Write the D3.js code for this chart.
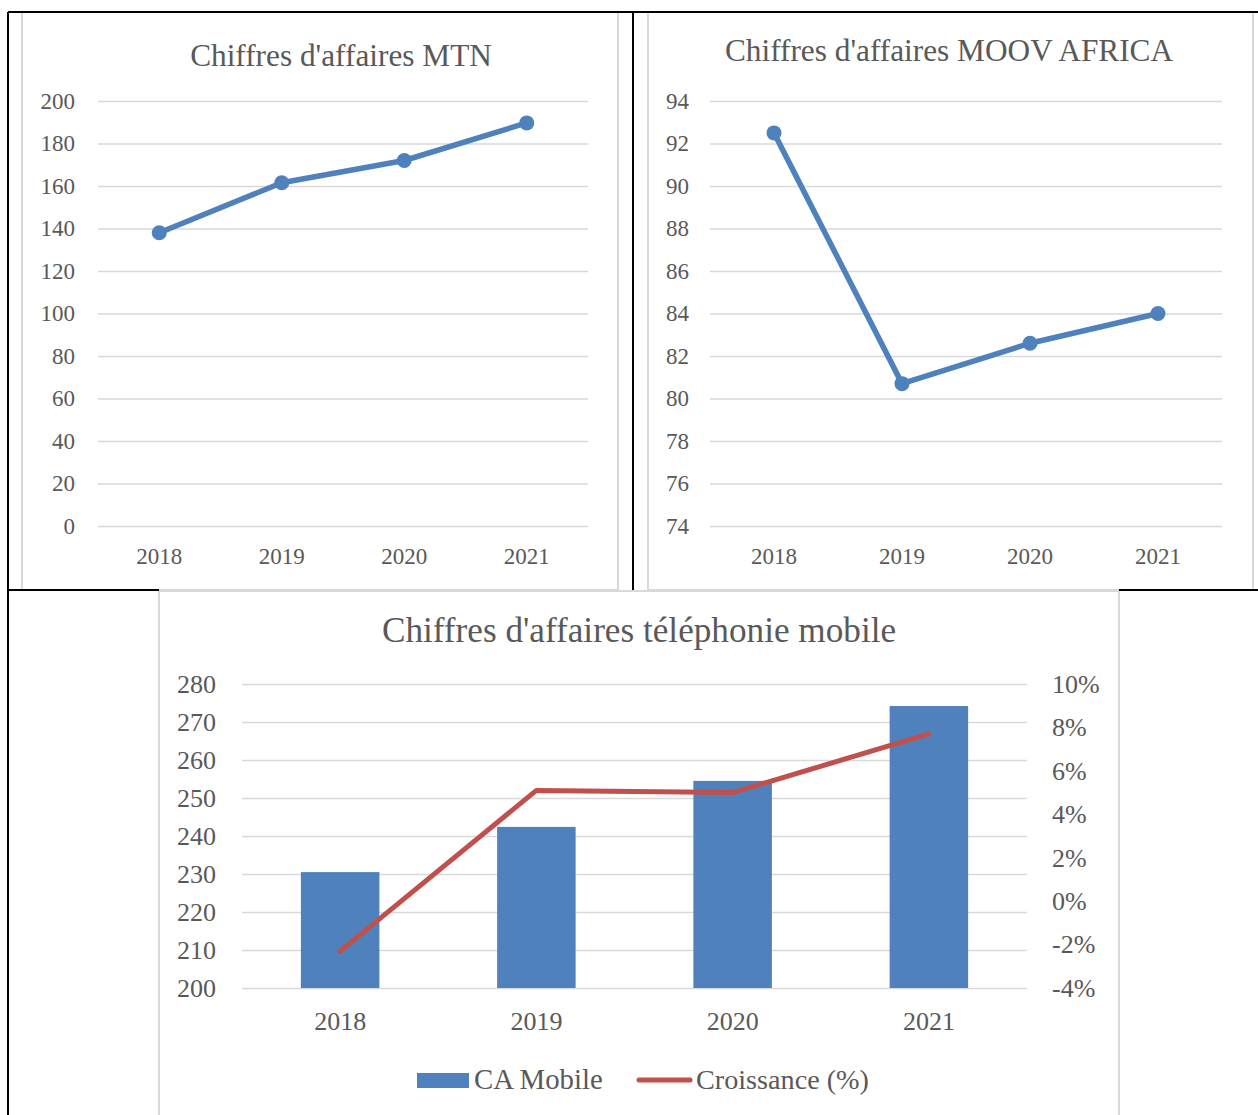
<!DOCTYPE html>
<html>
<head>
<meta charset="utf-8">
<script src="https://cdn.jsdelivr.net/npm/d3@7"></script>
<style>
  body { margin: 0; background: #fff; }
  text { font-family: "Liberation Serif", serif; fill: #595959; }
</style>
</head>
<body>
<div id="chart"></div>
<script>
// data
var years = ["2018", "2019", "2020", "2021"];

var mtnValues = [138, 161.5, 172, 189.7];
var mtnTicks = [0, 20, 40, 60, 80, 100, 120, 140, 160, 180, 200];

var moovValues = [92.5, 80.7, 82.6, 84.0];
var moovTicks = [74, 76, 78, 80, 82, 84, 86, 88, 90, 92, 94];

var caMobile = [230.5, 242.4, 254.5, 274.2];
var caTicks = [200, 210, 220, 230, 240, 250, 260, 270, 280];
var croissance = [-2.3, 5.1, 5.0, 7.7];
var croissanceTicks = [-4, -2, 0, 2, 4, 6, 8, 10];

var width = 1258, height = 1115;
var blue = "#4f81bd", red = "#c0504d", grid = "#d9d9d9";

var svg = d3.select("#chart")
  .append("svg")
  .attr("width", width)
  .attr("height", height);

// chart frames (grey) then the black table borders on top
svg.append("rect").attr("x", 22).attr("y", 12).attr("width", 596).attr("height", 578)
  .attr("fill", "none").attr("stroke", grid).attr("stroke-width", 2);
svg.append("rect").attr("x", 648).attr("y", 12).attr("width", 605).attr("height", 578)
  .attr("fill", "none").attr("stroke", grid).attr("stroke-width", 2);
svg.append("rect").attr("x", 159).attr("y", 591).attr("width", 960).attr("height", 540)
  .attr("fill", "none").attr("stroke", grid).attr("stroke-width", 2);

var borders = [
  [8, 12, 1258, 12],
  [8, 12, 8, 1115],
  [633, 12, 633, 590],
  [8, 590, 159, 590],
  [1119, 590, 1258, 590]
];
svg.selectAll(".border").data(borders).enter().append("line")
  .attr("x1", function(d) { return d[0]; })
  .attr("y1", function(d) { return d[1]; })
  .attr("x2", function(d) { return d[2]; })
  .attr("y2", function(d) { return d[3]; })
  .attr("stroke", "#000").attr("stroke-width", 2);

function styleAxis(g, size) {
  g.attr("font-family", null).attr("font-size", size);
  g.select(".domain").remove();
  g.selectAll("line").attr("stroke", grid).attr("stroke-width", 1.5);
  g.selectAll("text").attr("fill", "#595959");
}

// line chart (MTN, MOOV)
function lineChart(cfg) {
  var x = d3.scaleBand().domain(years).range([cfg.x0, cfg.x1]);
  var y = d3.scaleLinear().domain(cfg.domain).range([cfg.y1, cfg.y0]);

  svg.append("g")
    .attr("transform", "translate(" + cfg.x0 + ",0)")
    .call(d3.axisLeft(y).tickValues(cfg.ticks).tickSize(-(cfg.x1 - cfg.x0)).tickPadding(cfg.pad))
    .call(styleAxis, 23);

  svg.append("g")
    .attr("transform", "translate(0," + cfg.y1 + ")")
    .call(d3.axisBottom(x).tickSize(0).tickPadding(22))
    .call(styleAxis, 23);

  var line = d3.line()
    .x(function(d, i) { return x(years[i]) + x.bandwidth() / 2; })
    .y(function(d) { return y(d); });

  svg.append("path")
    .datum(cfg.values)
    .attr("d", line)
    .attr("fill", "none")
    .attr("stroke", blue)
    .attr("stroke-width", 5.5)
    .attr("stroke-linejoin", "round");

  svg.selectAll(null)
    .data(cfg.values)
    .enter().append("circle")
    .attr("cx", function(d, i) { return x(years[i]) + x.bandwidth() / 2; })
    .attr("cy", function(d) { return y(d); })
    .attr("r", 7.5)
    .attr("fill", blue);

  svg.append("text")
    .attr("x", cfg.titleX).attr("y", cfg.titleY)
    .attr("text-anchor", "middle")
    .attr("font-size", 31.3)
    .text(cfg.title);
}

lineChart({
  x0: 98, x1: 588, y0: 101, y1: 526,
  domain: [0, 200], ticks: mtnTicks, values: mtnValues, pad: 23,
  title: "Chiffres d'affaires MTN", titleX: 341, titleY: 66
});

lineChart({
  x0: 710, x1: 1222, y0: 101, y1: 526,
  domain: [74, 94], ticks: moovTicks, values: moovValues, pad: 21,
  title: "Chiffres d'affaires MOOV AFRICA", titleX: 949, titleY: 61
});

// combo chart: bars + growth line on right axis
var bx0 = 242, bx1 = 1027, by0 = 684, by1 = 988;
var x = d3.scaleBand().domain(years).range([bx0, bx1]);
var yL = d3.scaleLinear().domain([200, 280]).range([by1, by0]);
var yR = d3.scaleLinear().domain([-4, 10]).range([by1, by0]);

svg.append("g")
  .attr("transform", "translate(" + bx0 + ",0)")
  .call(d3.axisLeft(yL).tickValues(caTicks).tickSize(-(bx1 - bx0)).tickPadding(26))
  .call(styleAxis, 26);

svg.append("g")
  .attr("transform", "translate(" + bx1 + ",0)")
  .call(d3.axisRight(yR).tickValues(croissanceTicks).tickSize(0).tickPadding(25)
    .tickFormat(function(d) { return d + "%"; }))
  .call(styleAxis, 26);

svg.append("g")
  .attr("transform", "translate(0," + by1 + ")")
  .call(d3.axisBottom(x).tickSize(0).tickPadding(24))
  .call(styleAxis, 26);

svg.selectAll(".bar")
  .data(caMobile)
  .enter().append("rect")
  .attr("class", "bar")
  .attr("x", function(d, i) { return x(years[i]) + x.bandwidth() * 0.3; })
  .attr("y", function(d) { return yL(d); })
  .attr("width", x.bandwidth() * 0.4)
  .attr("height", function(d) { return by1 - yL(d); })
  .attr("fill", blue);

var growthLine = d3.line()
  .x(function(d, i) { return x(years[i]) + x.bandwidth() / 2; })
  .y(function(d) { return yR(d); });

svg.append("path")
  .datum(croissance)
  .attr("d", growthLine)
  .attr("fill", "none")
  .attr("stroke", red)
  .attr("stroke-width", 5)
  .attr("stroke-linejoin", "round")
  .attr("stroke-linecap", "round");

svg.append("text")
  .attr("x", 639).attr("y", 642)
  .attr("text-anchor", "middle")
  .attr("font-size", 35.2)
  .text("Chiffres d'affaires téléphonie mobile");

// legend
svg.append("rect").attr("x", 417).attr("y", 1073).attr("width", 52).attr("height", 15).attr("fill", blue);
svg.append("text").attr("x", 474).attr("y", 1089).attr("font-size", 28.8).text("CA Mobile");
svg.append("line").attr("x1", 639).attr("x2", 690).attr("y1", 1080).attr("y2", 1080)
  .attr("stroke", red).attr("stroke-width", 5).attr("stroke-linecap", "round");
svg.append("text").attr("x", 696).attr("y", 1089).attr("font-size", 28.2).text("Croissance (%)");
</script>
</body>
</html>
